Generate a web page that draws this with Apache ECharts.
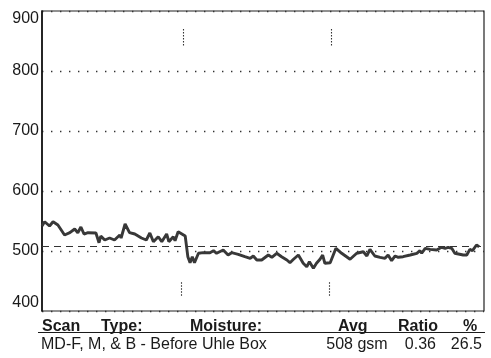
<!DOCTYPE html>
<html>
<head>
<meta charset="utf-8">
<script src="https://cdn.jsdelivr.net/npm/echarts@6/dist/echarts.min.js"></script>
<style>
html,body{margin:0;padding:0;background:#fff;}
#c{width:491px;height:358px;}
</style>
</head>
<body>
<div id="c"></div>
<script>
// Scan position (0-100 % of scan width) and moisture (gsm)
const scanPos = [0,0.6,1.7,2.5,3.6,5.1,6.3,7.4,8.1,8.8,9.5,10.4,12.2,12.9,13.3,14.2,15.3,16.4,17.6,17.9,18.8,19.8,21.0,22.5,23.6,24.4,25.2,26.3,27.1,28.2,28.7,29.7,30.1,30.8,32.4,33.0,33.5,34.0,34.5,35.4,36.5,38.0,38.8,39.5,41.0,42.1,42.9,44.4,45.9,47.1,47.8,48.6,49.7,51.2,52.0,53.1,54.2,55.4,56.1,56.9,58.0,59.1,59.9,60.5,61.4,62.1,62.9,63.5,64.0,65.2,66.5,67.8,69.7,71.2,72.7,73.5,74.2,75.3,76.5,77.6,78.3,79.1,79.9,80.6,81.7,83.3,84.8,85.5,85.9,86.7,87.8,89.3,90.4,91.2,91.9,92.7,93.4,95.3,96.1,96.8,97.4,98.3,98.9];
const moisture = [541.7,548.8,541.7,548.8,543.3,526.7,530.5,536.7,530.5,540,528.3,530.5,530,513.8,525,518.3,521.7,518.3,526.7,521.7,545,530.5,528.3,521.7,518.3,530,515.5,523.8,515.5,528.3,515.5,523.8,517.2,532.2,525,490.5,480.5,490.5,480.5,496.2,497.2,497.2,500.5,496.2,501.7,493.3,497.2,494.5,490.5,487.8,491.7,485,485,493.3,489.5,496.2,490.5,485,480.5,486.2,493.3,479.5,473.8,482.2,471.2,479.5,486.2,493.3,479.5,480.5,504.5,496.2,486.2,496.2,498.8,491.7,502.8,491.7,489.5,487.8,493.3,483.8,491.7,489.5,490.5,493.3,496.2,500.5,496.2,504.5,502.8,501.7,506.2,504.5,506.2,504.5,496.2,493.3,493.3,502.8,500.5,510,507.2];
const avgValue = 508;
const markerTopPos = [31.9, 65.4];
const markerBottomPos = [31.4, 64.9];
const markerTopRange = [870, 842];
const markerBottomRange = [448, 423];
const yTicks = [400, 500, 600, 700, 800, 900];
const headerWords = ["Scan", "Type:", "Moisture:", "Avg", "Ratio", "%"];
const rowTexts = ["MD-F, M, & B - Before Uhle Box", "508 gsm", "0.36", "26.5"];

const chart = echarts.init(document.getElementById('c'), null, {renderer: 'canvas'});
const ink = '#1a1a1a';
const markLines = [];
markerTopPos.forEach(p => markLines.push([{coord:[p, markerTopRange[0]]},{coord:[p, markerTopRange[1]]}]));
markerBottomPos.forEach(p => markLines.push([{coord:[p, markerBottomRange[0]]},{coord:[p, markerBottomRange[1]]}]));

const hdrX = [42, 101, 190, 338, 398, 463];
const rowX = [41, 357, 436, 482];
const rowAlign = ['left', 'center', 'right', 'right'];

const graphics = [
  {type:'line', shape:{x1:38, y1:332.5, x2:485, y2:332.5}, style:{stroke:ink, lineWidth:1.2}}
];
headerWords.forEach((w,i) => graphics.push({
  type:'text', x:hdrX[i], y:327, style:{text:w, fill:ink, font:'bold 16px "Liberation Sans", Arial, sans-serif', textAlign:'left', textVerticalAlign:'middle'}
}));
rowTexts.forEach((w,i) => graphics.push({
  type:'text', x:rowX[i], y:345, style:{text:w, fill:ink, font:'16px "Liberation Sans", Arial, sans-serif', textAlign:rowAlign[i], textVerticalAlign:'middle'}
}));

chart.setOption({
  animation: false,
  backgroundColor: '#fff',
  grid: {left:42, right:7, top:11, bottom:47, show:true, borderColor:'#222', borderWidth:1.2, backgroundColor:'transparent'},
  xAxis: {type:'value', min:0, max:100, show:true,
    axisLine:{show:false}, axisTick:{show:false}, axisLabel:{show:false}, splitLine:{show:false}},
  yAxis: {type:'value', min:yTicks[0], max:yTicks[yTicks.length-1], interval:100,
    axisLine:{show:true, lineStyle:{color:'#111', width:1.6}},
    axisTick:{show:false},
    axisLabel:{color:ink, fontSize:16, fontFamily:'"Liberation Sans", Arial, sans-serif', margin:3,
      verticalAlignMinLabel:'bottom', verticalAlignMaxLabel:'top'},
    splitLine:{show:true, lineStyle:{color:'#333', width:1.3, type:[1.4, 7.6]}}
  },
  series: [{
    type:'line',
    data: scanPos.map((p,i) => [p, moisture[i]]),
    showSymbol:false,
    lineStyle:{color:'#383838', width:2.9},
    z: 3,
    markLine: {
      silent:true, symbol:['none','none'], label:{show:false},
      data: [
        {yAxis: avgValue, lineStyle:{type:[7,5], color:'#333', width:1.1}},
        ...markLines.map(m => [Object.assign({}, m[0], {lineStyle:{type:[1.5,1.5], color:'#333', width:1.1}}), m[1]])
      ]
    }
  }],
  graphic: graphics
});
</script>
</body>
</html>
